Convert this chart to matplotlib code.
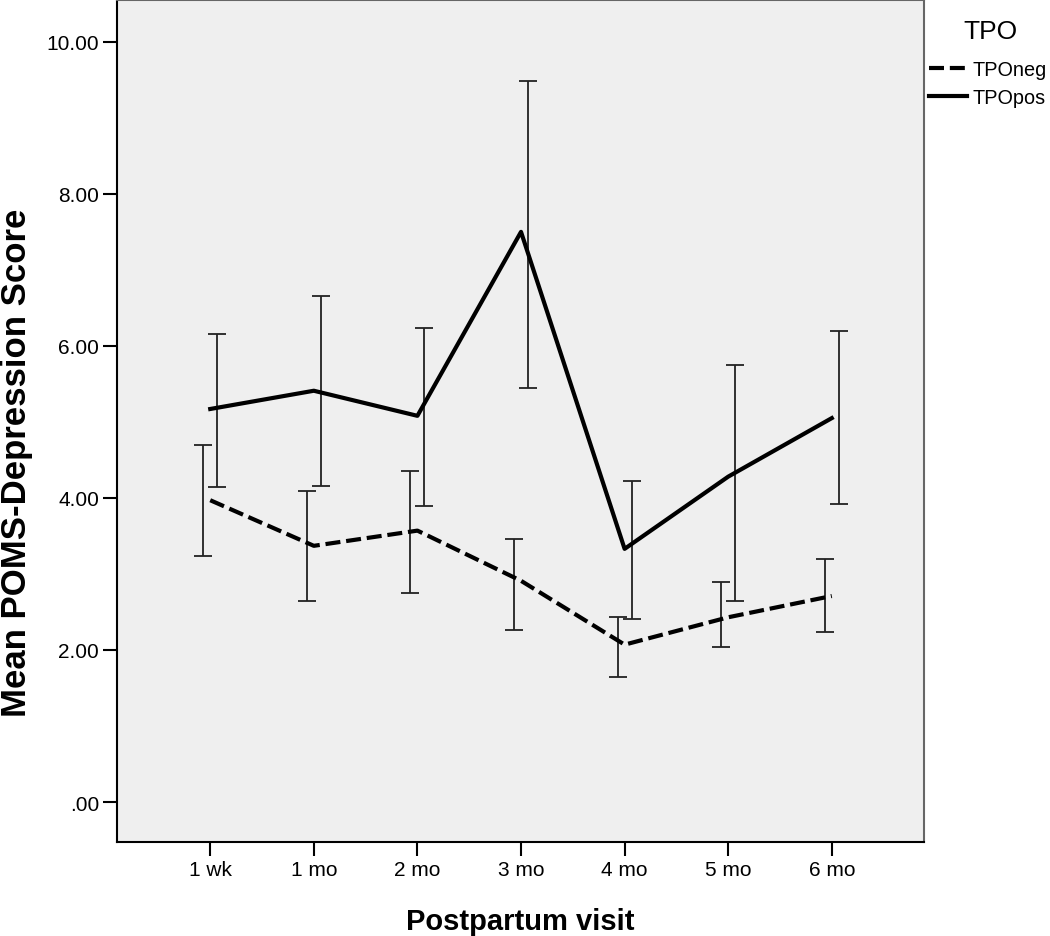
import matplotlib.pyplot as plt
from matplotlib.lines import Line2D
import numpy as np

plt.rcParams['font.family'] = ['Liberation Sans', 'DejaVu Sans']

visits = ['1 wk', '1 mo', '2 mo', '3 mo', '4 mo', '5 mo', '6 mo']
neg_mean = [3.97, 3.37, 3.57, 2.91, 2.07, 2.43, 2.71]
neg_lo = [3.24, 2.64, 2.75, 2.26, 1.64, 2.04, 2.24]
neg_hi = [4.70, 4.09, 4.36, 3.46, 2.43, 2.89, 3.20]
pos_mean = [5.17, 5.41, 5.08, 7.50, 3.33, 4.28, 5.05]
pos_lo = [4.14, 4.16, 3.89, 5.45, 2.41, 2.64, 3.92]
pos_hi = [6.16, 6.65, 6.24, 9.49, 4.22, 5.75, 6.20]
yticks = [0, 2, 4, 6, 8, 10]
ytick_labels = ['.00', '2.00', '4.00', '6.00', '8.00', '10.00']

x = np.arange(len(visits))
off = 0.067
dash = (0, (3.6, 1.4))

fig = plt.figure(figsize=(10.5, 9.37), dpi=100)
ax = fig.add_axes([117/1050, 1 - 843/937, (924-117)/1050, (843-1)/937])
ax.set_facecolor('#efefef')

nm, pm = np.array(neg_mean), np.array(pos_mean)
ax.errorbar(x - off, nm, yerr=[nm - np.array(neg_lo), np.array(neg_hi) - nm],
            fmt='none', ecolor='#222222', elinewidth=1.3, capsize=6.5, capthick=1.3, zorder=2)
ax.errorbar(x + off, pm, yerr=[pm - np.array(pos_lo), np.array(pos_hi) - pm],
            fmt='none', ecolor='#222222', elinewidth=1.3, capsize=6.5, capthick=1.3, zorder=2)

ax.plot(x, neg_mean, color='black', lw=3, ls=dash, zorder=3)
ax.plot(x, pos_mean, color='black', lw=3, zorder=3)

ax.set_xlim(-0.9, 6.89)
ax.set_ylim(-0.526, 10.55)
ax.set_xticks(x)
ax.set_xticklabels(visits, fontsize=15)
ax.set_yticks(yticks)
ax.set_yticklabels(ytick_labels, fontsize=15)
ax.tick_params(direction='out', length=10, width=1.5, colors='black', pad=3)

for s in ['left', 'bottom']:
    ax.spines[s].set_linewidth(1.5)
    ax.spines[s].set_color('black')
for s in ['top', 'right']:
    ax.spines[s].set_linewidth(1.5)
    ax.spines[s].set_color('#666666')

ax.set_xlabel('Postpartum visit', fontsize=21, fontweight='bold')
ax.set_ylabel('Mean POMS-Depression Score', fontsize=25, fontweight='bold')
ax.xaxis.set_label_coords(0.5, -0.077)
ax.yaxis.set_label_coords(-0.104, 0.452)

handles = [Line2D([], [], color='black', lw=3, ls=dash),
           Line2D([], [], color='black', lw=3)]
fig.text(990/1050, 1 - 32/937, 'TPO', fontsize=19, ha='center', va='center')
fig.legend(handles, ['TPOneg', 'TPOpos'], loc='upper left',
           bbox_to_anchor=(929/1050, 1 - 61/937), frameon=False, fontsize=14.3,
           handlelength=1.9, handletextpad=0.3, labelspacing=0.46,
           borderpad=0, borderaxespad=0)

fig.savefig('out.png', dpi=100)
